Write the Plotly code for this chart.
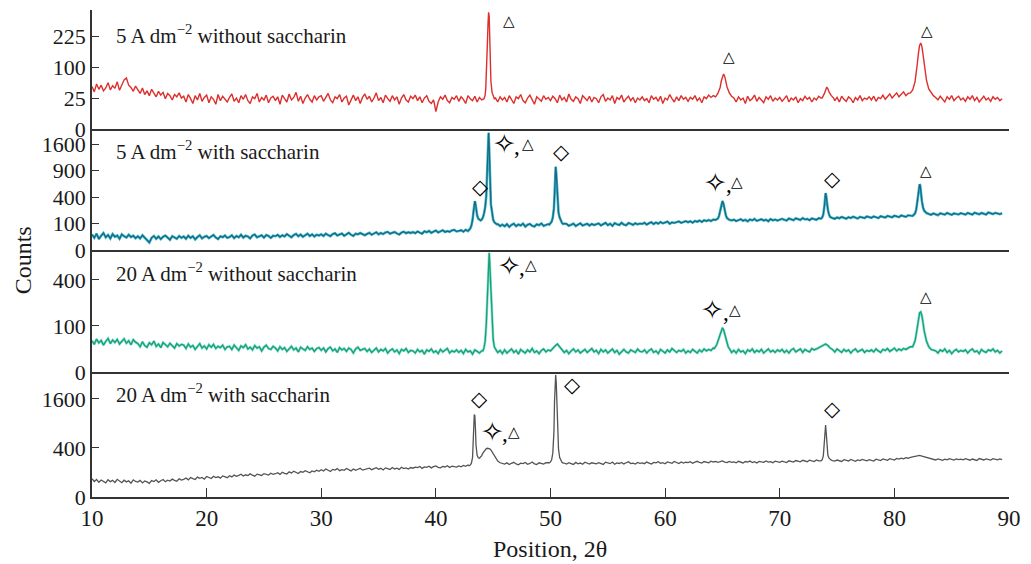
import numpy as np
import plotly.graph_objects as go
from plotly.subplots import make_subplots

# ---------------------------------------------------------------- data
# Diffractograms are sampled every 0.2 deg of 2-theta from 10 deg;
# the reflections are given separately on a finer 2-theta grid.
theta_start = 10.0
theta_step = 0.2

# 5 A dm-2 without saccharin
red_counts = [
    47, 36, 53, 41, 50, 38, 44, 56, 40, 49, 43, 58, 39, 52, 63, 68, 50, 45, 37, 48,
    40, 33, 44, 31, 38, 29, 41, 34, 27, 37, 30, 35, 24, 33, 29, 22, 31, 27, 34, 25,
    28, 19, 31, 24, 17, 29, 22, 33, 20, 26, 30, 18, 27, 23, 16, 31, 21, 28, 24, 19,
    26, 32, 20, 25, 18, 29, 23, 31, 21, 17, 27, 24, 33, 19, 26, 22, 30, 18, 25, 28,
    21, 27, 16, 30, 24, 19, 32, 22, 26, 35, 20, 28, 17, 25, 31, 23, 19, 29, 22, 27,
    29, 20, 26, 33, 22, 18, 27, 24, 31, 19, 25, 28, 15, 23, 30, 21, 27, 17, 26, 32,
    23, 28, 19, 25, 34, 21, 26, 18, 30, 24, 20, 29, 22, 27, 16, 25, 31, 22, 19, 28,
    24, 30, 21, 27, 18, 25, 29, 20, 17, 22, 8, 19, 27, 23, 30, 21, 18, 26, 23, 29,
    20, 27, 23, 17, 29, 24, 21, 28, 19, 26, 22, 28, 40, 200, 300, 90, 25, 19, 27, 22,
    26, 19, 29, 23, 17, 27, 24, 31, 21, 18, 25, 30, 22, 16, 27, 24, 20, 29, 23, 26,
    21, 28, 24, 18, 30, 22, 26, 19, 32, 23, 20, 27, 24, 17, 29, 25, 21, 28, 19, 26,
    24, 18, 27, 31, 20, 25, 22, 29, 17, 26, 23, 30, 19, 24, 28, 21, 26, 18, 25, 22,
    27, 21, 24, 18, 29, 23, 26, 20, 28, 17, 25, 22, 31, 24, 19, 27, 21, 29, 23, 26,
    20, 26, 23, 29, 21, 25, 18, 27, 24, 30, 26, 29, 33, 45, 65, 78, 60, 40, 30, 26,
    23, 19, 27, 22, 25, 17, 28, 21, 24, 30, 20, 26, 22, 18, 27, 23, 29, 20, 25, 22,
    26, 20, 24, 29, 19, 25, 22, 27, 18, 24, 21, 28, 23, 26, 19, 25, 22, 28, 25, 27,
    44, 40, 32, 27, 21, 26, 19, 28, 23, 20, 27, 24, 18, 26, 22, 29, 21, 25, 23, 27,
    22, 28, 20, 26, 24, 30, 23, 27, 32, 25, 29, 34, 27, 31, 36, 29, 33, 36, 48, 75,
    150, 190, 160, 100, 60, 42, 34, 30, 26, 22, 28, 24, 19, 27, 23, 29, 21, 25, 28, 22,
    25, 20, 27, 23, 29, 21, 26, 19, 24, 28, 22, 25, 20, 27, 23, 26, 21, 24,
]
red_peak_theta = [
    [44.2, 44.3, 44.35, 44.4, 44.45, 44.5, 44.55, 44.6, 44.65, 44.7, 44.75, 44.8, 44.9, 45.0, 45.1],
    [64.4, 64.6, 64.8, 64.9, 65.0, 65.1, 65.2, 65.3, 65.4, 65.6, 65.8, 66.0],
    [73.7, 73.9, 74.0, 74.1, 74.2, 74.3, 74.5, 74.7],
    [81.4, 81.6, 81.8, 81.9, 82.0, 82.1, 82.2, 82.3, 82.4, 82.5, 82.6, 82.8, 83.0, 83.2, 83.4],
]
red_peak_counts = [
    [24, 30, 42, 70, 120, 200, 290, 355, 330, 220, 120, 60, 35, 27, 24],
    [27, 33, 45, 60, 74, 79, 72, 58, 46, 34, 28, 25],
    [25, 33, 41, 46, 42, 36, 29, 25],
    [34, 40, 58, 78, 110, 150, 182, 193, 178, 145, 110, 62, 42, 34, 29],
]

# 5 A dm-2 with saccharin
teal_counts = [
    34, 21, 38, 17, 29, 41, 23, 32, 19, 36, 25, 30, 18, 35, 27, 22, 33, 24, 29, 20,
    27, 19, 31, 22, 16, 8, 21, 28, 18, 26, 17, 25, 30, 20, 15, 27, 22, 18, 28, 21,
    26, 18, 29, 21, 27, 16, 24, 31, 19, 25, 28, 20, 26, 32, 22, 17, 27, 23, 30, 21,
    24, 31, 20, 28, 23, 33, 22, 29, 26, 19, 30, 34, 23, 27, 31, 22, 32, 28, 21, 29,
    27, 33, 24, 31, 26, 36, 29, 23, 32, 37, 27, 34, 25, 30, 38, 28, 35, 26, 33, 30,
    35, 28, 38, 32, 27, 36, 40, 30, 34, 39, 29, 37, 42, 33, 28, 38, 35, 41, 36, 31,
    37, 42, 33, 39, 45, 35, 41, 36, 44, 47, 38, 42, 46, 39, 34, 43, 48, 40, 45, 41,
    46, 40, 49, 43, 38, 50, 45, 52, 42, 48, 54, 44, 50, 56, 46, 51, 47, 55, 58, 49,
    52, 56, 48, 58, 51, 60, 130, 340, 170, 128, 132, 190, 420, 1960, 300, 130, 100, 96, 82, 92,
    80, 95, 76, 90, 99, 81, 93, 86, 100, 78, 91, 97, 84, 79, 94, 88, 101, 83, 92, 96,
    100, 140, 300, 700, 250, 130, 100, 97, 84, 91, 99, 82, 94, 102, 86, 90, 98, 85, 96, 89,
    94, 101, 86, 97, 105, 88, 99, 83, 103, 95, 89, 106, 92, 87, 104, 98, 90, 102, 94, 100,
    97, 106, 92, 103, 110, 96, 108, 99, 112, 101, 107, 115, 98, 109, 104, 113, 117, 105, 111, 119,
    110, 118, 106, 121, 114, 124, 112, 126, 119, 128, 120, 132, 130, 140, 230, 342, 220, 145, 130, 125,
    131, 119, 128, 136, 122, 130, 117, 133, 125, 138, 121, 129, 135, 124, 131, 118, 137, 126, 132, 123,
    128, 139, 131, 124, 141, 134, 127, 143, 136, 129, 145, 133, 138, 126, 142, 135, 130, 144, 140, 145,
    462, 230, 155, 145, 139, 151, 143, 156, 147, 140, 154, 145, 158, 149, 142, 157, 150, 146, 160, 152,
    148, 161, 153, 145, 163, 155, 150, 166, 157, 152, 168, 159, 154, 170, 161, 156, 172, 165, 175, 200,
    330, 615, 340, 220, 195, 185, 176, 190, 181, 173, 192, 184, 178, 195, 183, 176, 191, 186, 180, 194,
    185, 178, 195, 187, 180, 198, 189, 182, 196, 186, 179, 200, 190, 184, 197, 188, 183, 192,
]
teal_peak_theta = [
    [42.9, 43.0, 43.1, 43.2, 43.3, 43.35, 43.4, 43.45, 43.5, 43.6, 43.7, 43.8, 43.9, 44.0, 44.1,
     44.2, 44.3, 44.4, 44.45, 44.5, 44.55, 44.6, 44.65, 44.7, 44.75, 44.8, 44.9, 45.0, 45.1, 45.2, 45.3],
    [49.9, 50.0, 50.1, 50.2, 50.3, 50.35, 50.4, 50.45, 50.5, 50.55, 50.6, 50.7, 50.8, 50.9, 51.0, 51.1],
    [64.4, 64.6, 64.7, 64.8, 64.9, 65.0, 65.1, 65.2, 65.3, 65.4, 65.6, 65.8],
    [73.6, 73.7, 73.8, 73.9, 73.95, 74.0, 74.05, 74.1, 74.2, 74.3, 74.4, 74.6],
    [81.6, 81.8, 81.9, 82.0, 82.1, 82.15, 82.2, 82.25, 82.3, 82.4, 82.5, 82.6, 82.8, 83.0],
]
teal_peak_counts = [
    [58, 66, 85, 130, 230, 300, 340, 310, 240, 170, 140, 128, 125, 132, 150,
     190, 260, 420, 700, 1150, 1600, 1960, 1500, 1150, 600, 300, 180, 130, 110, 100, 95],
    [92, 100, 115, 150, 250, 420, 620, 990, 850, 600, 380, 200, 150, 120, 105, 96],
    [130, 140, 165, 230, 300, 342, 300, 220, 170, 145, 130, 125],
    [140, 150, 180, 280, 380, 462, 420, 330, 230, 180, 155, 145],
    [165, 190, 230, 330, 480, 560, 615, 600, 480, 340, 260, 220, 195, 185],
]

# 20 A dm-2 without saccharin
green_counts = [
    46, 36, 51, 40, 47, 34, 44, 53, 38, 48, 41, 50, 37, 43, 52, 39, 46, 35, 49, 42,
    38, 30, 43, 33, 29, 40, 35, 45, 31, 37, 28, 41, 34, 30, 39, 33, 27, 38, 32, 36,
    34, 26, 37, 29, 33, 24, 31, 38, 27, 32, 25, 35, 29, 36, 26, 31, 28, 34, 24, 30,
    31, 24, 34, 27, 22, 32, 28, 35, 25, 29, 23, 33, 27, 30, 21, 29, 34, 26, 24, 31,
    27, 21, 30, 24, 28, 20, 26, 31, 23, 27, 19, 29, 25, 22, 30, 24, 27, 20, 26, 28,
    22, 27, 19, 26, 29, 21, 25, 18, 28, 23, 26, 20, 27, 24, 17, 25, 29, 22, 24, 26,
    20, 25, 18, 23, 27, 19, 24, 21, 26, 17, 22, 25, 19, 23, 16, 24, 21, 26, 18, 22,
    21, 17, 24, 19, 22, 15, 23, 20, 25, 18, 21, 16, 24, 19, 22, 26, 17, 21, 19, 23,
    18, 22, 16, 24, 19, 21, 15, 23, 20, 17, 21, 28, 110, 620, 300, 50, 24, 18, 22, 16,
    23, 17, 21, 25, 18, 22, 15, 24, 20, 17, 23, 19, 26, 18, 21, 16, 22, 25, 19, 23,
    21, 27, 32, 37, 30, 24, 18, 22, 16, 21, 25, 19, 23, 17, 20, 24, 18, 22, 26, 19,
    22, 16, 24, 19, 23, 17, 21, 25, 18, 22, 15, 20, 24, 19, 17, 23, 21, 18, 25, 20,
    19, 23, 17, 22, 25, 18, 21, 16, 24, 20, 17, 23, 19, 26, 21, 18, 22, 20, 24, 17,
    21, 18, 24, 20, 17, 23, 19, 25, 21, 24, 22, 27, 35, 55, 86, 84, 48, 30, 22, 18,
    22, 17, 24, 19, 21, 16, 23, 20, 25, 18, 22, 19, 24, 17, 21, 25, 19, 22, 18, 23,
    20, 24, 18, 22, 17, 23, 26, 19, 22, 25, 18, 24, 21, 19, 26, 23, 25, 28, 31, 34,
    37, 33, 27, 24, 19, 25, 21, 18, 24, 20, 23, 17, 22, 25, 19, 21, 24, 18, 22, 20,
    23, 19, 25, 21, 18, 24, 22, 26, 20, 23, 27, 21, 25, 22, 26, 24, 28, 30, 38, 60,
    100, 165, 150, 80, 30, 22, 19, 24, 21, 17, 23, 20, 25, 18, 22, 16, 21, 24, 19, 22,
    20, 23, 17, 22, 25, 19, 21, 16, 24, 20, 18, 23, 21, 25, 19, 22, 17, 21,
]
green_peak_theta = [
    [44.1, 44.2, 44.3, 44.4, 44.5, 44.55, 44.6, 44.65, 44.7, 44.8, 44.9, 45.0, 45.1, 45.2, 45.3],
    [64.3, 64.5, 64.7, 64.8, 64.9, 65.0, 65.1, 65.2, 65.3, 65.5, 65.7],
    [81.6, 81.8, 81.9, 82.0, 82.1, 82.2, 82.3, 82.4, 82.5, 82.6, 82.8, 83.0, 83.2, 83.4],
]
green_peak_counts = [
    [21, 28, 45, 110, 300, 480, 620, 670, 560, 300, 110, 50, 30, 24, 21],
    [26, 35, 55, 72, 86, 92, 84, 66, 48, 30, 22],
    [30, 45, 65, 100, 140, 165, 170, 150, 115, 80, 45, 30, 24, 22],
]

# 20 A dm-2 with saccharin
gray_counts = [
    56, 40, 51, 36, 48, 42, 33, 50, 39, 46, 35, 52, 41, 34, 47, 38, 44, 32, 49, 40,
    37, 46, 33, 43, 38, 31, 45, 40, 49, 36, 44, 51, 39, 47, 42, 53, 46, 41, 55, 48,
    52, 60, 49, 63, 56, 51, 66, 58, 64, 53, 70, 61, 57, 72, 63, 68, 59, 74, 66, 62,
    75, 67, 80, 71, 78, 86, 73, 82, 76, 89, 79, 72, 87, 83, 77, 91, 84, 80, 94, 86,
    90, 98, 85, 102, 93, 88, 105, 96, 110, 99, 92, 108, 101, 115, 104, 97, 113, 106, 119, 110,
    124, 112, 130, 117, 108, 127, 121, 134, 115, 125, 119, 136, 122, 113, 131, 118, 128, 137, 120, 126,
    129, 139, 124, 135, 143, 128, 137, 122, 141, 133, 126, 145, 131, 138, 127, 147, 135, 140, 130, 144,
    138, 149, 143, 155, 136, 151, 146, 158, 141, 153, 160, 147, 142, 156, 150, 163, 145, 158, 153, 148,
    161, 152, 166, 157, 170, 170, 260, 1130, 450, 255, 285, 350, 390, 392, 370, 300, 250, 215, 195, 188,
    180, 194, 176, 189, 200, 182, 172, 191, 185, 198, 178, 187, 203, 183, 175, 195, 188, 180, 197, 190,
    205, 320, 2300, 2200, 380, 215, 192, 181, 196, 186, 176, 199, 184, 192, 178, 202, 187, 180, 195, 189,
    183, 196, 188, 177, 201, 190, 185, 204, 179, 193, 187, 199, 182, 195, 206, 186, 191, 180, 198, 189,
    194, 185, 203, 191, 180, 199, 193, 207, 188, 197, 184, 205, 195, 189, 210, 198, 187, 204, 192, 201,
    196, 208, 190, 203, 212, 198, 192, 209, 201, 195, 214, 204, 210, 199, 207, 216, 203, 196, 211, 200,
    206, 195, 212, 201, 193, 209, 203, 215, 198, 207, 192, 211, 204, 199, 216, 202, 208, 196, 213, 205,
    200, 214, 207, 197, 218, 209, 203, 221, 211, 205, 224, 213, 207, 226, 215, 209, 228, 217, 222, 225,
    860, 290, 232, 220, 214, 227, 218, 210, 231, 222, 216, 234, 223, 212, 229, 220, 236, 225, 217, 232,
    224, 215, 238, 227, 220, 241, 230, 223, 244, 233, 226, 247, 238, 252, 243, 258, 250, 262, 268, 275,
    282, 288, 279, 270, 262, 250, 243, 236, 228, 241, 233, 224, 239, 230, 245, 235, 226, 242, 232, 238,
    229, 244, 234, 225, 240, 231, 222, 246, 236, 228, 242, 233, 227, 245, 235, 230, 241, 232,
]
gray_peak_theta = [
    [42.9, 43.0, 43.1, 43.2, 43.25, 43.3, 43.35, 43.4, 43.45, 43.5, 43.6, 43.7, 43.8, 43.9, 44.0,
     44.1, 44.2, 44.3, 44.4, 44.5, 44.6, 44.7, 44.8, 44.9, 45.0, 45.2, 45.4, 45.6, 45.8],
    [49.9, 50.0, 50.1, 50.2, 50.3, 50.35, 50.4, 50.45, 50.5, 50.55, 50.6, 50.7, 50.8, 50.9, 51.0, 51.1],
    [73.6, 73.7, 73.8, 73.85, 73.9, 73.95, 74.0, 74.05, 74.1, 74.15, 74.2, 74.3, 74.4, 74.5, 74.6],
]
gray_peak_counts = [
    [162, 170, 190, 260, 480, 800, 1130, 1100, 800, 450, 290, 255, 250, 262, 285,
     320, 350, 375, 390, 395, 392, 385, 370, 340, 300, 250, 215, 195, 188],
    [195, 205, 230, 320, 700, 1500, 2300, 2480, 2200, 1400, 700, 380, 260, 215, 200, 192],
    [218, 230, 280, 400, 620, 860, 860, 700, 500, 360, 290, 250, 232, 225, 220],
]

panel_names = [
    "5 A dm<sup>\u22122</sup> without saccharin",
    "5 A dm<sup>\u22122</sup> with saccharin",
    "20 A dm<sup>\u22122</sup> without saccharin",
    "20 A dm<sup>\u22122</sup> with saccharin",
]
count_ticks = [
    [0, 25, 100, 225],
    [0, 100, 400, 900, 1600],
    [0, 100, 400],
    [0, 400, 1600],
]
count_max = [369, 2088, 702, 2600]
theta_ticks = [10, 20, 30, 40, 50, 60, 70, 80, 90]

# Phase markers: (symbol, 2-theta, vertical position in plot-area fraction)
STAR, DIAMOND, TRIANGLE = "\u2727", "\u25c7", "\u25b3"
phase_marks = [
    (TRIANGLE, 46.40, 0.977), (TRIANGLE, 65.55, 0.903), (TRIANGLE, 82.88, 0.957),
    (DIAMOND, 43.88, 0.637), (STAR, 45.96, 0.725), (TRIANGLE, 48.07, 0.725),
    (DIAMOND, 50.99, 0.708), (STAR, 64.42, 0.646), (TRIANGLE, 66.27, 0.647),
    (DIAMOND, 74.64, 0.653), (TRIANGLE, 82.79, 0.669),
    (STAR, 46.40, 0.476), (TRIANGLE, 48.30, 0.476),
    (STAR, 64.16, 0.384), (TRIANGLE, 66.11, 0.384), (TRIANGLE, 82.79, 0.411),
    (DIAMOND, 43.80, 0.201), (STAR, 44.92, 0.135), (TRIANGLE, 46.83, 0.133),
    (DIAMOND, 51.94, 0.230), (DIAMOND, 74.64, 0.181),
]


# ---------------------------------------------------------------- helpers
def assemble(base, peak_theta, peak_counts):
    """Join the coarse scan with the finely sampled reflections."""
    theta = theta_start + theta_step * np.arange(len(base))
    counts = np.asarray(base, dtype=float)
    keep = np.ones(len(theta), dtype=bool)
    for seg in peak_theta:
        keep &= ~((theta >= min(seg) - 1e-6) & (theta <= max(seg) + 1e-6))
    th = np.concatenate([theta[keep]] + [np.asarray(s, float) for s in peak_theta])
    ct = np.concatenate([counts[keep]] + [np.asarray(s, float) for s in peak_counts])
    order = np.argsort(th, kind="stable")
    return th[order], ct[order]


series = [
    assemble(red_counts, red_peak_theta, red_peak_counts),
    assemble(teal_counts, teal_peak_theta, teal_peak_counts),
    assemble(green_counts, green_peak_theta, green_peak_counts),
    assemble(gray_counts, gray_peak_theta, gray_peak_counts),
]

# (halo colour, halo width, line colour, line width)
styles = [
    (None, 0, "#dc2f2b", 1.4),
    ("#3fb8c4", 2.6, "#176685", 1.2),
    ("#8fded2", 2.6, "#14a176", 1.3),
    (None, 0, "#545454", 1.3),
]

SERIF = "Liberation Serif, Times New Roman, serif"
SYMBOL = "DejaVu Sans, sans-serif"
AXIS_COLOR = "#333333"
TEXT_COLOR = "#1a1a1a"

# ---------------------------------------------------------------- figure
fig = make_subplots(rows=4, cols=1, shared_xaxes=True, vertical_spacing=0)

domains = [[0.7556, 1.0], [0.5072, 0.7556], [0.2567, 0.5072], [0.0, 0.2567]]
label_y = [0.9487, 0.7125, 0.462, 0.2115]

for i, ((th, ct), (halo, hw, col, lw)) in enumerate(zip(series, styles)):
    row = i + 1
    y = np.sqrt(ct)  # counts are shown on a square-root scale
    if halo:
        fig.add_trace(go.Scatter(x=th, y=y, mode="lines",
                                 line=dict(color=halo, width=hw),
                                 hoverinfo="skip", showlegend=False), row=row, col=1)
    fig.add_trace(go.Scatter(x=th, y=y, mode="lines",
                             line=dict(color=col, width=lw),
                             showlegend=False), row=row, col=1)

    yname = "yaxis" if row == 1 else f"yaxis{row}"
    xname = "xaxis" if row == 1 else f"xaxis{row}"
    fig.layout[yname].update(
        domain=domains[i],
        range=[0, np.sqrt(count_max[i])],
        tickvals=np.sqrt(count_ticks[i]),
        ticktext=[str(v) for v in count_ticks[i]],
        ticks="inside", ticklen=7, tickwidth=1.3, tickcolor=AXIS_COLOR,
        showline=True, linecolor=AXIS_COLOR, linewidth=1.5,
        showgrid=False, zeroline=False,
        tickfont=dict(family=SERIF, size=22, color=TEXT_COLOR),
        fixedrange=True,
    )
    last = row == 4
    fig.layout[xname].update(
        range=[10, 90],
        showline=True, linecolor=AXIS_COLOR, linewidth=1.6,
        showgrid=False, zeroline=False,
        ticks="inside" if last else "", ticklen=9, tickwidth=1.3, tickcolor=AXIS_COLOR,
        tickvals=theta_ticks if last else None,
        showticklabels=last,
        tickfont=dict(family=SERIF, size=23, color=TEXT_COLOR),
        fixedrange=True,
    )

    fig.add_annotation(
        text=panel_names[i], xref="paper", yref="paper",
        x=0.0238, y=label_y[i],
        xanchor="left", yanchor="middle", showarrow=False,
        font=dict(family=SERIF, size=21, color=TEXT_COLOR),
    )

sym_size = {STAR: 27, DIAMOND: 21, TRIANGLE: 15}
for sym, th, yp in phase_marks:
    fig.add_annotation(text=sym, x=th, xref="x4", y=yp, yref="paper",
                       showarrow=False, xanchor="center", yanchor="middle",
                       font=dict(family=SYMBOL, size=sym_size[sym], color="#000000"))
    if sym == STAR:
        # comma separating the two phase symbols
        fig.add_annotation(text=",", x=th + 1.12, xref="x4", y=yp - 0.005, yref="paper",
                           showarrow=False, xanchor="center", yanchor="middle",
                           font=dict(family=SERIF, size=23, color="#000000"))

fig.add_annotation(text="Counts", textangle=-90, xref="paper", yref="paper",
                   x=-0.0758, y=0.487, showarrow=False,
                   xanchor="center", yanchor="middle",
                   font=dict(family=SERIF, size=24, color=TEXT_COLOR))
fig.add_annotation(text="Position, 2\u03b8", xref="paper", yref="paper",
                   x=0.4995, y=-0.107, showarrow=False,
                   xanchor="center", yanchor="middle",
                   font=dict(family=SERIF, size=24, color=TEXT_COLOR))

fig.update_layout(
    width=1031, height=564,
    margin=dict(l=92, r=16, t=10, b=67),
    paper_bgcolor="white", plot_bgcolor="white",
    showlegend=False,
)

fig.write_html("out.html")
